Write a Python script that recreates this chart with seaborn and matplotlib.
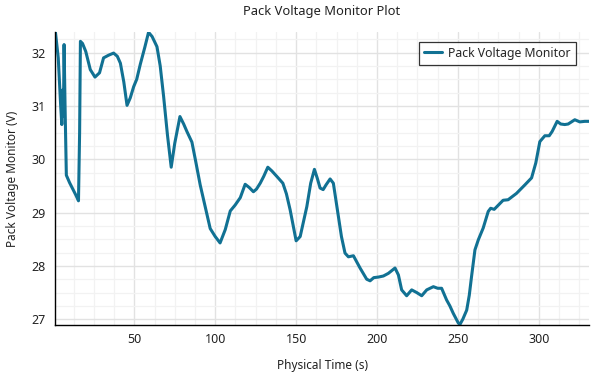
import numpy as np
import pandas as pd
import seaborn as sns
from matplotlib import pyplot as plt
from matplotlib.ticker import MultipleLocator

# Pack voltage trace
time_s = [1.2, 3.0, 4.5, 5.2, 5.8, 6.2, 6.6, 7.2, 8.0, 10.0, 12.0, 14.0, 15.5,
          16.2, 16.7, 18.0, 20.0, 22.8, 25.7, 28.5, 31.0, 34.1, 37.2, 39.5,
          41.4, 43.5, 45.5, 47.5, 49.6, 51.5, 53.7, 56.5, 58.8, 61.0, 64.0,
          66.0, 68.1, 70.5, 72.8, 75.0, 78.2, 80.5, 82.5, 85.6, 88.0, 90.7,
          93.5, 96.9, 100.0, 103.0, 106.2, 109.3, 112.3, 115.5, 118.5, 121.0,
          123.6, 125.5, 127.8, 130.0, 132.5, 135.0, 138.0, 141.8, 144.0, 146.3,
          150.0, 152.5, 156.6, 159.0, 161.3, 163.0, 164.8, 166.7, 168.5, 171.0,
          173.0, 176.1, 178.0, 180.2, 182.3, 185.4, 189.5, 193.6, 195.7, 198.0,
          200.8, 203.9, 207.0, 211.1, 213.2, 215.2, 218.3, 221.4, 224.5, 227.6,
          230.7, 234.8, 237.5, 239.9, 243.0, 245.0, 247.1, 250.2, 251.2, 253.0,
          255.4, 257.0, 258.4, 260.5, 262.6, 265.6, 268.7, 270.2, 272.4, 275.0,
          277.9, 281.0, 286.2, 291.4, 295.5, 298.1, 300.6, 303.7, 306.4, 308.2,
          311.3, 313.5, 316.0, 318.1, 322.2, 325.3, 328.4, 331.0]
voltage_v = [32.40, 31.90, 31.00, 30.65, 31.30, 30.80, 32.15, 31.00, 29.70, 29.56,
             29.44, 29.32, 29.22, 30.50, 32.21, 32.17, 32.02, 31.68, 31.54, 31.62,
             31.90, 31.95, 31.99, 31.93, 31.80, 31.45, 31.01, 31.15, 31.36, 31.50,
             31.78, 32.10, 32.38, 32.30, 32.11, 31.75, 31.18, 30.45, 29.85, 30.30,
             30.80, 30.66, 30.52, 30.32, 29.95, 29.52, 29.15, 28.70, 28.55, 28.43,
             28.68, 29.03, 29.14, 29.28, 29.53, 29.47, 29.39, 29.44, 29.55, 29.68,
             29.85, 29.78, 29.68, 29.55, 29.35, 29.05, 28.47, 28.55, 29.11, 29.55,
             29.81, 29.65, 29.46, 29.43, 29.52, 29.63, 29.55, 28.93, 28.55, 28.24,
             28.17, 28.19, 27.96, 27.75, 27.72, 27.78, 27.79, 27.81, 27.86, 27.96,
             27.83, 27.55, 27.44, 27.55, 27.50, 27.44, 27.55, 27.61, 27.58, 27.58,
             27.36, 27.25, 27.11, 26.93, 26.90, 27.00, 27.17, 27.45, 27.80, 28.30,
             28.49, 28.71, 29.02, 29.08, 29.06, 29.14, 29.23, 29.24, 29.36, 29.52,
             29.65, 29.93, 30.33, 30.44, 30.44, 30.52, 30.71, 30.66, 30.65, 30.66,
             30.74, 30.70, 30.71, 30.71]

df = pd.DataFrame({'Physical Time (s)': time_s, 'Pack Voltage Monitor': voltage_v})

sns.set_style('whitegrid')
plt.rcParams['font.family'] = ['Noto Sans', 'DejaVu Sans']

fig = plt.figure(figsize=(5.98, 3.78), dpi=100)
ax = fig.add_axes([0.092, 0.140, 0.893, 0.776])

sns.lineplot(data=df, x='Physical Time (s)', y='Pack Voltage Monitor',
             color='#117193', linewidth=2.2, label='Pack Voltage Monitor', ax=ax)

ax.set_xlim(1, 331)
ax.set_ylim(26.89, 32.39)
ax.xaxis.set_major_locator(MultipleLocator(50))
ax.xaxis.set_minor_locator(MultipleLocator(12.5))
ax.yaxis.set_major_locator(MultipleLocator(1))
ax.yaxis.set_minor_locator(MultipleLocator(0.25))

ax.grid(which='major', color='#e2e2e2', linewidth=1.0)
ax.grid(which='minor', color='#f2f2f2', linewidth=0.9)
ax.set_axisbelow(True)

for side in ['top', 'right']:
    ax.spines[side].set_visible(False)
for side in ['left', 'bottom']:
    ax.spines[side].set_color('black')
    ax.spines[side].set_linewidth(1.0)

ax.tick_params(which='both', direction='out', color='#333333', width=0.8)
ax.tick_params(which='major', length=4, labelsize=9, labelcolor='#222222')
ax.tick_params(which='minor', length=3.5)
ax.tick_params(axis='x', which='major', pad=2)
ax.tick_params(axis='y', which='major', pad=3)

ax.set_title('Pack Voltage Monitor Plot', fontsize=9.3, pad=12, color='#222222')
ax.set_xlabel('Physical Time (s)', fontsize=8.5, labelpad=9, color='#222222')
ax.set_ylabel('Pack Voltage Monitor (V)', fontsize=8.5, labelpad=9, color='#222222')

leg = ax.legend(loc='upper right', bbox_to_anchor=(0.975, 0.966), borderaxespad=0,
                fontsize=8.8, frameon=True, fancybox=False, handlelength=1.5,
                handletextpad=0.5, borderpad=0.4)
leg.get_frame().set_edgecolor('black')
leg.get_frame().set_linewidth(0.9)

plt.savefig('out.png', dpi=100)
